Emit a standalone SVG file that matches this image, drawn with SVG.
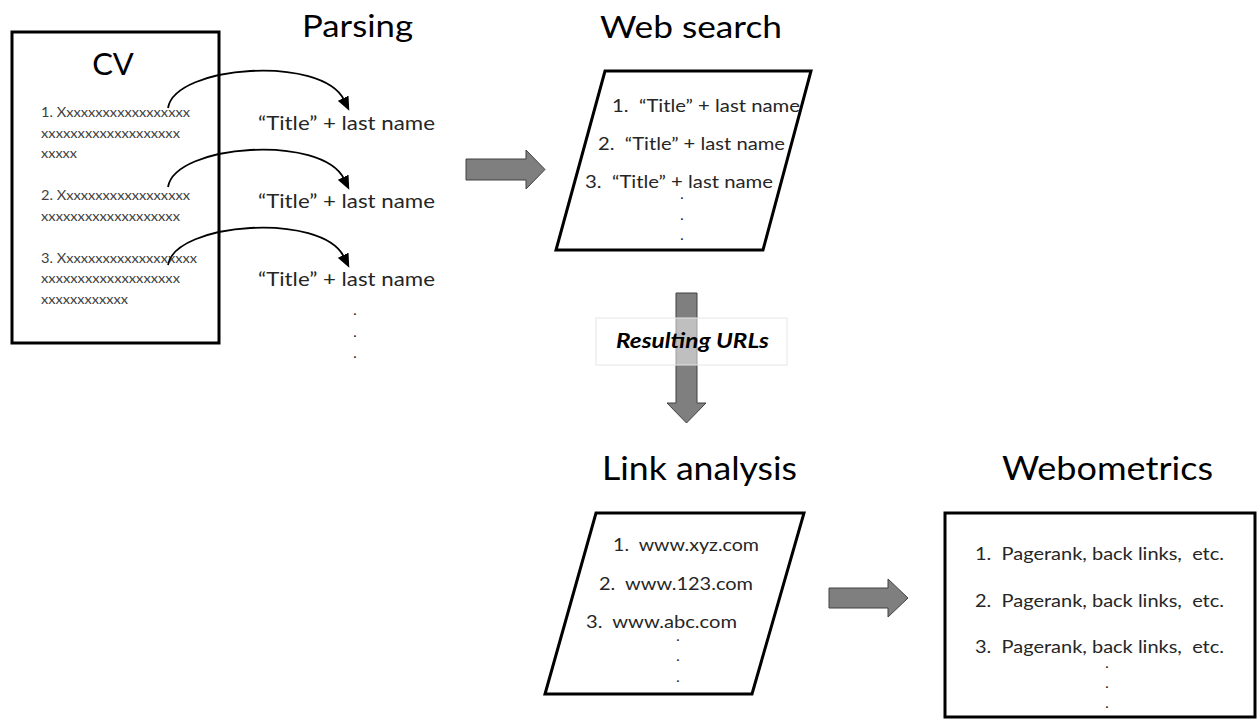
<svg xmlns="http://www.w3.org/2000/svg" width="1257" height="719" viewBox="0 0 1257 719">
<style>
.title{font-family:Lato,"Liberation Sans",sans-serif;font-size:31px;fill:#000}
.item{font-family:Lato,"Liberation Sans",sans-serif;font-size:18px;fill:#262626}
.cv{font-family:Lato,"Liberation Sans",sans-serif;font-size:14px;fill:#404040}
.dot{font-family:Lato,"Liberation Sans",sans-serif;font-size:12px;font-weight:900;fill:#262626}
.box{fill:#fff;stroke:#000;stroke-width:3}
.curve{fill:none;stroke:#000;stroke-width:1.8}
.block{fill:#7f7f7f;stroke:#404040;stroke-width:1}
.lbl{font-family:Lato,"Liberation Sans",sans-serif;font-size:20px;font-weight:bold;font-style:italic;fill:#000}
</style>
<defs>
<marker id="ah" markerUnits="userSpaceOnUse" markerWidth="14" markerHeight="12" viewBox="0 0 14 12" refX="2" refY="6" orient="auto">
<path d="M0,0 L14,6 L0,12 z" fill="#000"/>
</marker>
</defs>
<rect width="1257" height="719" fill="#fff"/>

<g id="parsing-title">
<text class="title" x="302" y="37" textLength="111" lengthAdjust="spacingAndGlyphs">Parsing</text>
</g>

<g id="cv">
<rect class="box" x="12" y="32" width="207" height="311"/>
<text class="title" x="113" y="75" text-anchor="middle">CV</text>
<text class="cv" x="41" y="117" textLength="149" lengthAdjust="spacingAndGlyphs">1. Xxxxxxxxxxxxxxxxxx</text>
<text class="cv" x="41" y="138" textLength="139" lengthAdjust="spacingAndGlyphs">xxxxxxxxxxxxxxxxxxx</text>
<text class="cv" x="41" y="158" textLength="36" lengthAdjust="spacingAndGlyphs">xxxxx</text>
<text class="cv" x="41" y="200" textLength="149" lengthAdjust="spacingAndGlyphs">2. Xxxxxxxxxxxxxxxxxx</text>
<text class="cv" x="41" y="221" textLength="139" lengthAdjust="spacingAndGlyphs">xxxxxxxxxxxxxxxxxxx</text>
<text class="cv" x="41" y="263" textLength="156" lengthAdjust="spacingAndGlyphs">3. Xxxxxxxxxxxxxxxxxxx</text>
<text class="cv" x="41" y="283" textLength="139" lengthAdjust="spacingAndGlyphs">xxxxxxxxxxxxxxxxxxx</text>
<text class="cv" x="41" y="304" textLength="87" lengthAdjust="spacingAndGlyphs">xxxxxxxxxxxx</text>
</g>

<g id="parsed-terms">
<text class="item" style="font-size:20px" x="258" y="130" textLength="177" lengthAdjust="spacingAndGlyphs">“Title” + last name</text>
<text class="item" style="font-size:20px" x="258" y="208" textLength="177" lengthAdjust="spacingAndGlyphs">“Title” + last name</text>
<text class="item" style="font-size:20px" x="258" y="286" textLength="177" lengthAdjust="spacingAndGlyphs">“Title” + last name</text>
<text class="dot" text-anchor="middle"><tspan x="355" y="315">.</tspan><tspan x="355" y="337">.</tspan><tspan x="355" y="358">.</tspan></text>
</g>

<g id="web-search">
<text class="title" x="600" y="38" textLength="182" lengthAdjust="spacingAndGlyphs">Web search</text>
<polygon class="box" points="605,71 811,71 763,250 556,250"/>
<text class="item" x="612" y="112" textLength="188" lengthAdjust="spacingAndGlyphs" xml:space="preserve">1.  “Title” + last name</text>
<text class="item" x="598" y="150" textLength="187" lengthAdjust="spacingAndGlyphs" xml:space="preserve">2.  “Title” + last name</text>
<text class="item" x="585" y="188" textLength="188" lengthAdjust="spacingAndGlyphs" xml:space="preserve">3.  “Title” + last name</text>
<text class="dot" text-anchor="middle"><tspan x="682" y="199">.</tspan><tspan x="682" y="220">.</tspan><tspan x="682" y="240">.</tspan></text>
</g>

<g id="link-analysis">
<text class="title" style="font-size:32px" x="602" y="480" textLength="195" lengthAdjust="spacingAndGlyphs">Link analysis</text>
<polygon class="box" points="596,513 804,513 752,694 545,694"/>
<text class="item" x="613" y="551" textLength="146" lengthAdjust="spacingAndGlyphs" xml:space="preserve">1.  www.xyz.com</text>
<text class="item" x="599" y="590" textLength="154" lengthAdjust="spacingAndGlyphs" xml:space="preserve">2.  www.123.com</text>
<text class="item" x="586" y="628" textLength="151" lengthAdjust="spacingAndGlyphs" xml:space="preserve">3.  www.abc.com</text>
<text class="dot" text-anchor="middle"><tspan x="678" y="641">.</tspan><tspan x="678" y="661">.</tspan><tspan x="678" y="682">.</tspan></text>
</g>

<g id="webometrics">
<text class="title" style="font-size:32px" x="1002" y="480" textLength="211" lengthAdjust="spacingAndGlyphs">Webometrics</text>
<rect class="box" x="945" y="513" width="310" height="204"/>
<text class="item" x="975" y="560" textLength="249" lengthAdjust="spacingAndGlyphs" xml:space="preserve">1.  Pagerank, back links,  etc.</text>
<text class="item" x="975" y="607" textLength="249" lengthAdjust="spacingAndGlyphs" xml:space="preserve">2.  Pagerank, back links,  etc.</text>
<text class="item" x="975" y="653" textLength="249" lengthAdjust="spacingAndGlyphs" xml:space="preserve">3.  Pagerank, back links,  etc.</text>
<text class="dot" text-anchor="middle"><tspan x="1107" y="668">.</tspan><tspan x="1107" y="688">.</tspan><tspan x="1107" y="708">.</tspan></text>
</g>

<g id="connectors">
<path class="curve" d="M168,108 C175,65 322,55 344,100" marker-end="url(#ah)"/>
<path class="curve" d="M168,108 C175,65 322,55 344,100" marker-end="url(#ah)" transform="translate(0,79)"/>
<path class="curve" d="M168,108 C175,65 322,55 344,100" marker-end="url(#ah)" transform="translate(0,157)"/>
<polygon class="block" points="466,159 526,159 526,150 545,169.5 526,189 526,180 466,180"/>
<polygon class="block" points="676,293 697,293 697,403 706,403 686.5,423 667,403 676,403"/>
<polygon class="block" points="829,588 888,588 888,579 908,598 888,617 888,608 829,608"/>
<g id="label-resulting-urls">
<rect x="596" y="318" width="191" height="47" fill="#fff" fill-opacity="0.5" stroke="#e6e6e6" stroke-width="1"/>
<text class="lbl" x="616" y="348" textLength="153" lengthAdjust="spacingAndGlyphs">Resulting URLs</text>
</g>
</g>
</svg>
